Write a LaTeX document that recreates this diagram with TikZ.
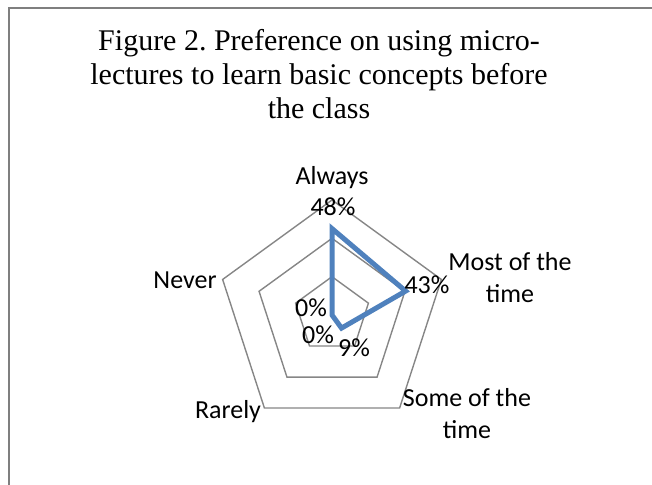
\documentclass[tikz,border=0pt]{standalone}
\usepackage{fontspec}
\setmainfont{Liberation Serif}
\newfontfamily\lblfont{Carlito}
\frenchspacing
\definecolor{ringgray}{HTML}{868686}
\definecolor{serieblue}{HTML}{4F81BD}
\definecolor{framegray}{HTML}{7F7F7F}
\tikzset{
  ring/.style={ringgray,line width=1.4pt},
  serie/.style={serieblue,line width=5pt},
  lbl/.style={inner sep=0pt,align=center,font=\lblfont\fontsize{26}{32.5}\selectfont},
  ttl/.style={inner sep=0pt,align=center,font=\fontsize{30}{34}\selectfont},
}
\begin{document}
\begin{tikzpicture}[x=1pt,y=1pt]
\useasboundingbox (0,0) rectangle (652,484);
\draw[framegray,line width=2pt] (9,-10) -- (9,476) -- (662,476);

\node[ttl] (title) at (319,410) {Figure 2. Preference on using micro-\\lectures to learn basic concepts before\\the class};

\begin{scope}[shift={(332,169)}]
\foreach \r in {38.3,76.7,115}
  \draw[ring] (90:\r) -- (18:\r) -- (-54:\r) -- (-126:\r) -- (162:\r) -- cycle;
\draw[serie] (90:86.4) -- (18:77.4) -- (-54:16.2) -- (0,0) -- cycle;
\end{scope}

% categories
\node[lbl] (always) at (332,306) {Always};
\node[lbl] (mostof) at (510,206.5) {Most of the\\time};
\node[lbl] (someof) at (467,70.5) {Some of the\\time};
\node[lbl] (rarely) at (228,72) {Rarely};
\node[lbl] (never) at (185,204) {Never};

% values
\node[lbl] (pAlways) at (333,277) {48\%};
\node[lbl] (pMost) at (427,199) {43\%};
\node[lbl] (pSome) at (354,136) {9\%};
\node[lbl] (pRarely) at (318,149) {0\%};
\node[lbl] (pNever) at (311,176) {0\%};
\end{tikzpicture}
\end{document}
